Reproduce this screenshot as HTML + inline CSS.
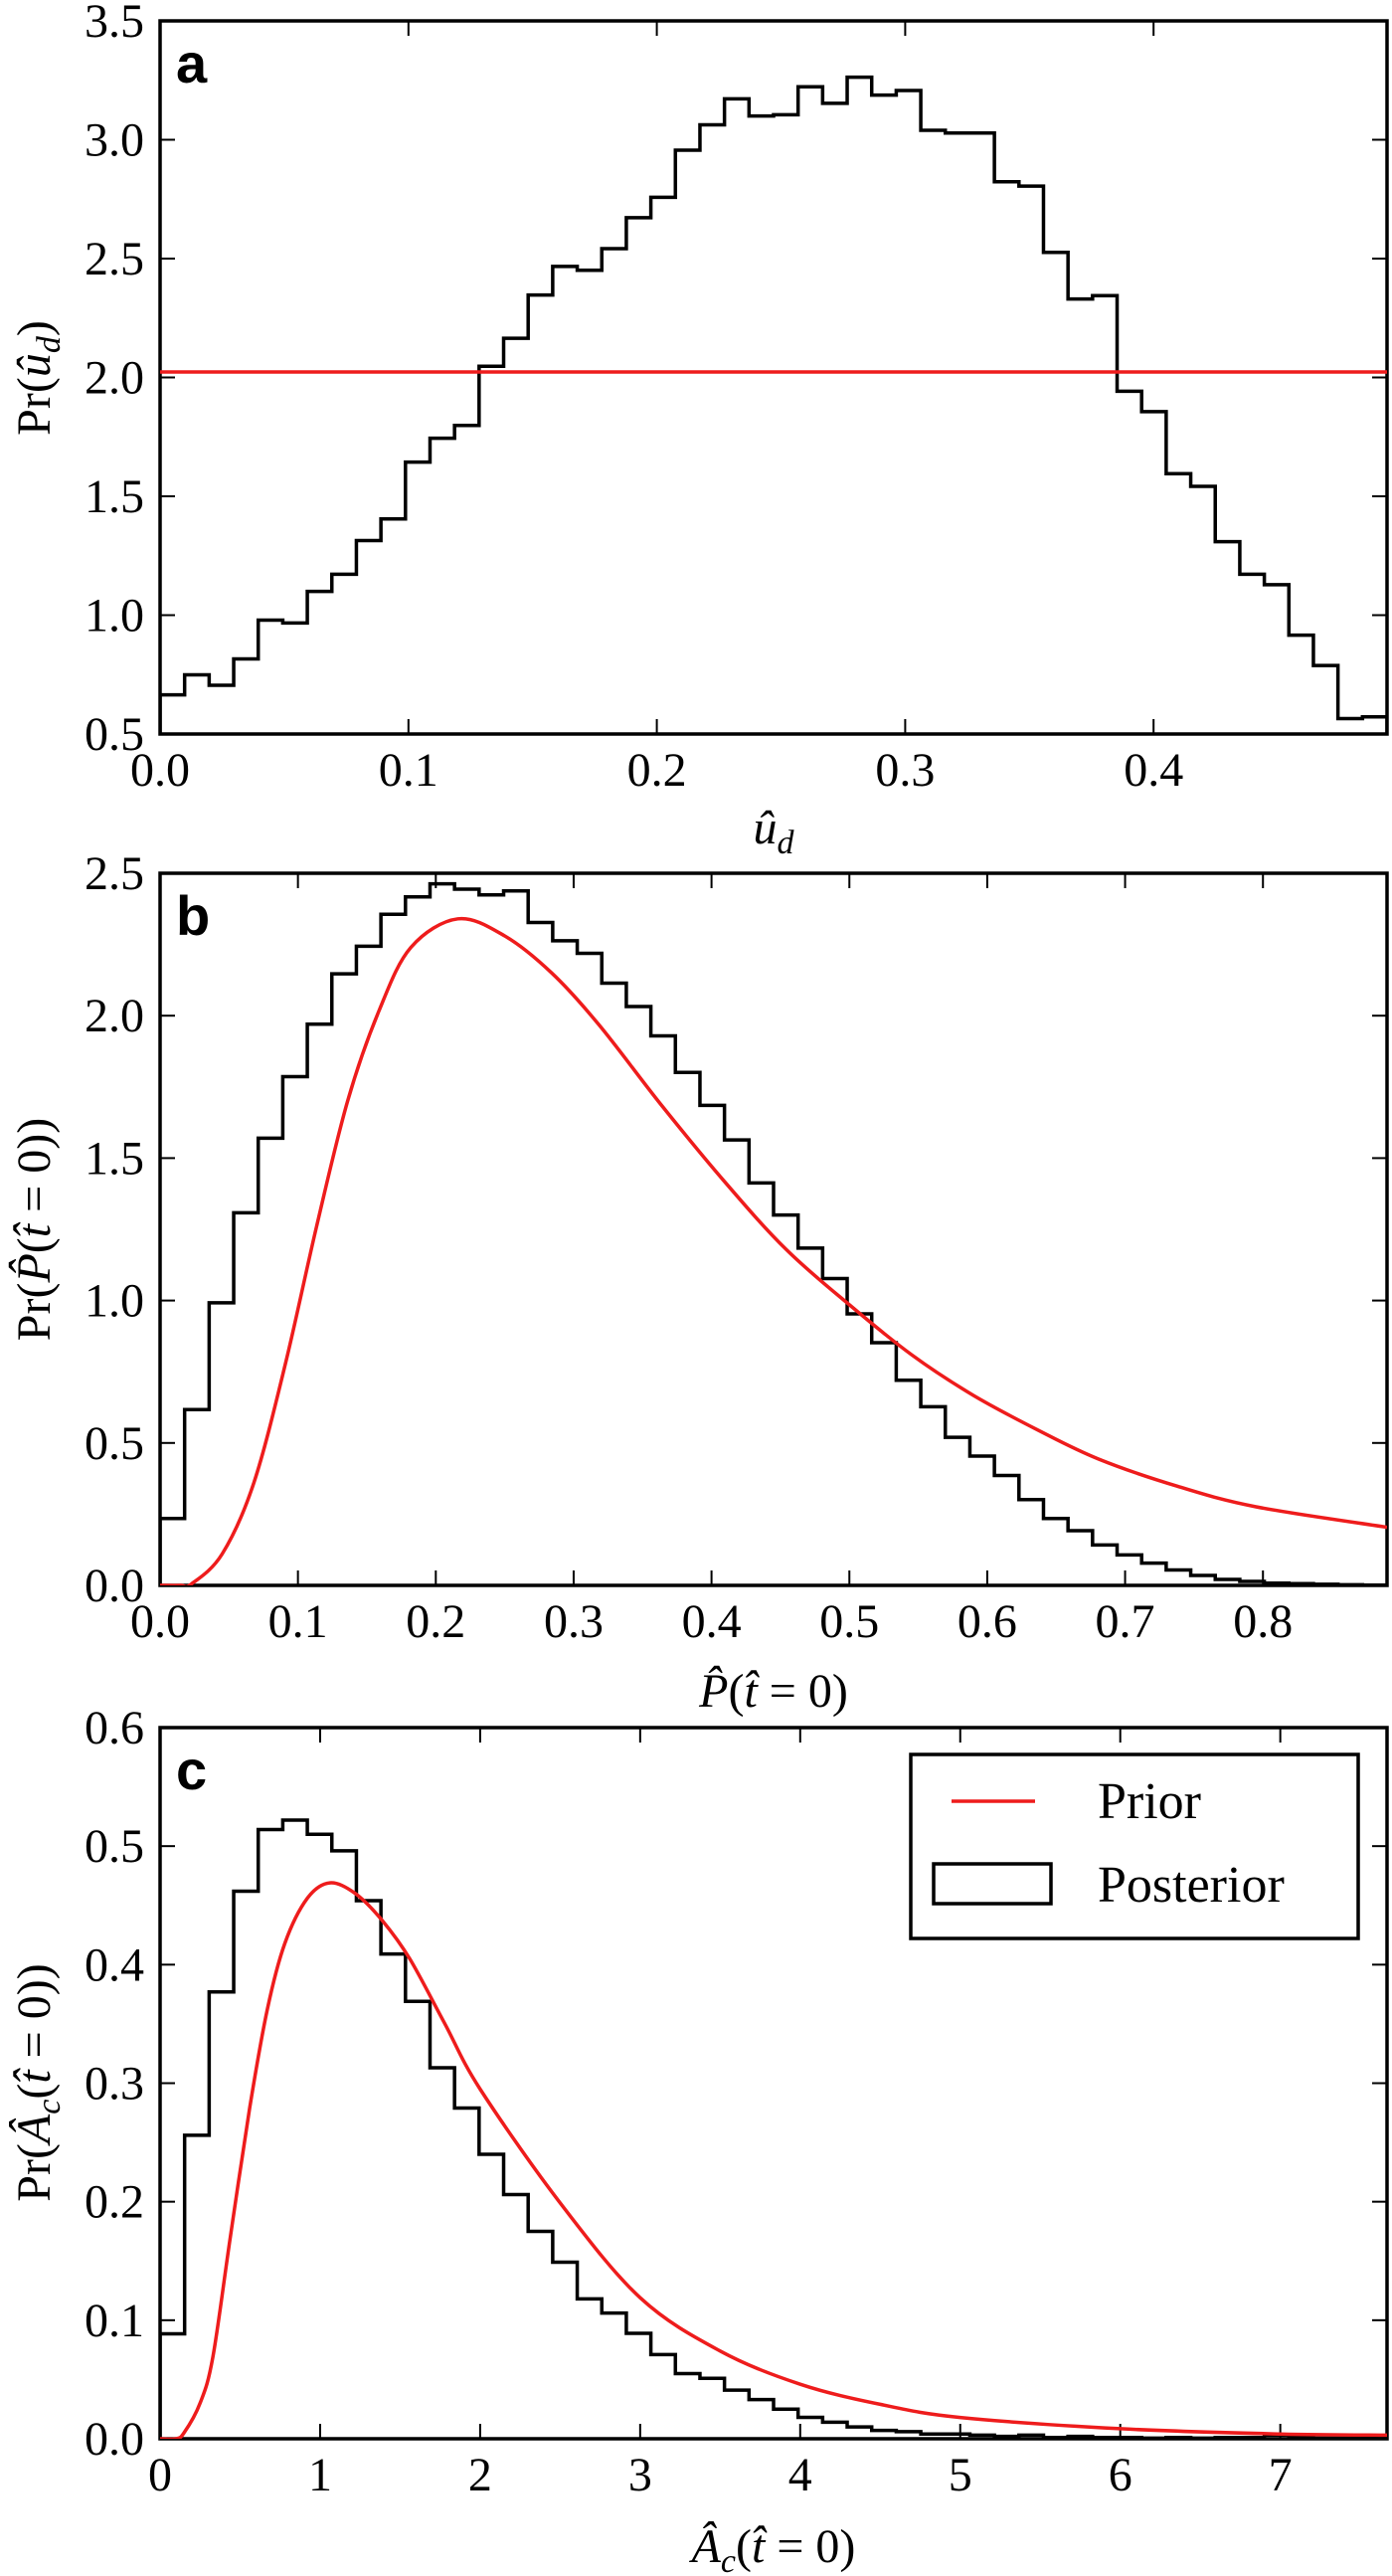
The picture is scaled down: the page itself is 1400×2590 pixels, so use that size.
<!DOCTYPE html>
<html><head><meta charset="utf-8"><style>
html,body{margin:0;padding:0;background:#fff;}
svg{display:block;}
</style></head><body>
<svg id="fig" width="1400" height="2590" viewBox="0 0 1400 2590" xmlns="http://www.w3.org/2000/svg"></svg>
<script>
// ---- Panel a data ----
const aBins = [0.665,0.749,0.705,0.816,0.979,0.967,1.100,1.172,1.314,1.405,1.644,1.744,1.798,2.047,2.165,2.347,2.467,2.451,2.542,2.672,2.758,2.956,3.063,3.172,3.100,3.105,3.223,3.153,3.263,3.188,3.207,3.040,3.028,3.028,2.823,2.805,2.526,2.330,2.344,1.942,1.856,1.595,1.542,1.309,1.172,1.128,0.916,0.788,0.565,0.572];
const aPrior = 2.023;
const aXTicks = [0,0.1,0.2,0.3,0.4];
const aXTickLabels = ["0.0","0.1","0.2","0.3","0.4"];
const aYTicks = [0.5,1.0,1.5,2.0,2.5,3.0,3.5];
const aYTickLabels = ["0.5","1.0","1.5","2.0","2.5","3.0","3.5"];
// ---- Panel b data ----
const bBins = [0.235,0.617,0.992,1.308,1.570,1.786,1.970,2.147,2.244,2.356,2.417,2.463,2.444,2.424,2.438,2.327,2.263,2.219,2.114,2.032,1.929,1.801,1.685,1.564,1.413,1.300,1.184,1.077,0.953,0.852,0.720,0.627,0.520,0.454,0.386,0.301,0.235,0.192,0.142,0.107,0.078,0.054,0.035,0.021,0.014,0.008,0.006,0.004,0.002,0.001];
const bPriorX = [0.0,0.015,0.0227,0.045,0.068,0.091,0.1135,0.136,0.159,0.182,0.216,0.25,0.284,0.318,0.363,0.409,0.454,0.5,0.545,0.59,0.636,0.681,0.738,0.795,0.89];
const bPriorY = [0.0,0.0,0.005,0.11,0.36,0.78,1.26,1.70,2.02,2.24,2.34,2.28,2.15,1.97,1.69,1.42,1.18,0.985,0.81,0.667,0.547,0.443,0.348,0.276,0.204];
const bXTicks = [0,0.1,0.2,0.3,0.4,0.5,0.6,0.7,0.8];
const bXTickLabels = ["0.0","0.1","0.2","0.3","0.4","0.5","0.6","0.7","0.8"];
const bYTicks = [0,0.5,1.0,1.5,2.0,2.5];
const bYTickLabels = ["0.0","0.5","1.0","1.5","2.0","2.5"];
// ---- Panel c data ----
const cBins = [0.0885,0.256,0.377,0.462,0.514,0.522,0.510,0.496,0.454,0.409,0.369,0.313,0.279,0.240,0.206,0.175,0.149,0.118,0.106,0.089,0.071,0.055,0.051,0.041,0.033,0.025,0.018,0.014,0.010,0.007,0.006,0.004,0.004,0.003,0.002,0.003,0.001,0.002,0.001,0.001,0.0005,0.001,0.0005,0.001,0.001,0.003,0.001,0.0005,0.0005,0.0005];
const cPriorX = [0.0,0.1,0.15,0.25,0.33,0.44,0.56,0.67,0.78,0.92,1.06,1.22,1.39,1.56,1.78,2.0,2.5,3.0,3.5,4.0,4.5,5.0,6.0,7.0,7.67];
const cPriorY = [0.0,0.0,0.005,0.03,0.069,0.171,0.279,0.362,0.418,0.456,0.469,0.460,0.437,0.405,0.350,0.295,0.199,0.119,0.074,0.046,0.029,0.018,0.0085,0.004,0.003];
const cXTicks = [0,1,2,3,4,5,6,7];
const cXTickLabels = ["0","1","2","3","4","5","6","7"];
const cYTicks = [0,0.1,0.2,0.3,0.4,0.5,0.6];
const cYTickLabels = ["0.0","0.1","0.2","0.3","0.4","0.5","0.6"];

const NS = "http://www.w3.org/2000/svg";
const FONT = "Liberation Serif, serif";
const svg = document.getElementById('fig');
const L = 161, R = 1395;
function mk(tag, attrs, parent){ const e=document.createElementNS(NS,tag); for(const k in attrs) e.setAttribute(k,attrs[k]); (parent||svg).appendChild(e); return e; }

function panel(id, top, bottom, xmax, ymin, ymax, bins, xt, xtl, yt, ytl, letter){
  const g = mk('g',{});
  
  
  const sx = v => L + (v/xmax)*(R-L);
  const sy = v => bottom - (v-ymin)/(ymax-ymin)*(bottom-top);
  const clip = mk('clipPath',{id:'clip-'+id}, g);
  mk('rect',{x:L,y:top,width:R-L,height:bottom-top}, clip);
  xt.forEach((v,i)=>{
    const t = mk('line',{x1:sx(v),x2:sx(v),y1:bottom,y2:bottom-15,stroke:'#000','stroke-width':2}, g);
    
    
    mk('line',{x1:sx(v),x2:sx(v),y1:top,y2:top+15,stroke:'#000','stroke-width':2}, g);
    const tl = mk('text',{x:sx(v),y:bottom+52,'text-anchor':'middle','font-size':48,'font-family':FONT,style:'font-family:"Liberation Serif",serif',fill:'#000'}, g);
    tl.textContent = xtl[i];
    
    
  });
  yt.forEach((v,i)=>{
    const t = mk('line',{x1:L,x2:L+15,y1:sy(v),y2:sy(v),stroke:'#000','stroke-width':2}, g);
    
    
    mk('line',{x1:R,x2:R-15,y1:sy(v),y2:sy(v),stroke:'#000','stroke-width':2}, g);
    const tl = mk('text',{x:145,y:sy(v)+16,'text-anchor':'end','font-size':48,'font-family':FONT,style:'font-family:"Liberation Serif",serif',fill:'#000'}, g);
    tl.textContent = ytl[i];
    
    
  });
  const n = bins.length, w = xmax/n;
  let d = 'M'+sx(0)+','+bottom+' V'+sy(bins[0]);
  for(let i=0;i<n;i++){
    d += ' H'+sx((i+1)*w);
    if(i<n-1) d += ' V'+sy(bins[i+1]);
  }
  d += ' V'+bottom;
  const h = mk('path',{d:d,fill:'none',stroke:'#000','stroke-width':3.5,'clip-path':'url(#clip-'+id+')'}, g);
  
  
  const fr = mk('rect',{x:L,y:top,width:R-L,height:bottom-top,fill:'none',stroke:'#000','stroke-width':3.5}, g);
  
  
  const pl = mk('text',{x:177,y:top+62,'font-size':56,'font-weight':'bold','font-family':'Liberation Sans, sans-serif',fill:'#000'}, g);
  pl.textContent = letter;
  
  
  return {g, sx, sy, id};
}
function priorCurve(p, xs, ys){
  const P = xs.map((x,i)=>[p.sx(x), p.sy(ys[i])]);
  let d = 'M'+P[0][0].toFixed(1)+','+P[0][1].toFixed(1);
  for(let i=0;i<P.length-1;i++){
    const p0 = P[Math.max(0,i-1)], p1 = P[i], p2 = P[i+1], p3 = P[Math.min(P.length-1,i+2)];
    const c1 = [p1[0]+(p2[0]-p0[0])/6, p1[1]+(p2[1]-p0[1])/6];
    const c2 = [p2[0]-(p3[0]-p1[0])/6, p2[1]-(p3[1]-p1[1])/6];
    d += ' C'+c1[0].toFixed(1)+','+c1[1].toFixed(1)+' '+c2[0].toFixed(1)+','+c2[1].toFixed(1)+' '+p2[0].toFixed(1)+','+p2[1].toFixed(1);
  }
  const c = mk('path',{d:d,fill:'none',stroke:'#ee1c1c','stroke-width':3.5,'clip-path':'url(#clip-'+p.id+')','stroke-linejoin':'round'}, p.g);
  
  
}

const pa = panel('a',21,738,0.494,0.5,3.5,aBins,aXTicks,aXTickLabels,aYTicks,aYTickLabels,'a');
const pr = mk('line',{x1:L,x2:R,y1:pa.sy(aPrior),y2:pa.sy(aPrior),stroke:'#ee1c1c','stroke-width':3.5}, pa.g);



const pb = panel('b',878,1594,0.89,0,2.5,bBins,bXTicks,bXTickLabels,bYTicks,bYTickLabels,'b');
priorCurve(pb,bPriorX,bPriorY);

const pc = panel('c',1737,2452,7.667,0,0.6,cBins,cXTicks,cXTickLabels,cYTicks,cYTickLabels,'c');
priorCurve(pc,cPriorX,cPriorY);
</script>
<svg style="position:absolute;left:0;top:0" width="1400" height="2590">
  <text x="778" y="848" text-anchor="middle" font-size="48" font-family="Liberation Serif, serif" font-style="italic">û<tspan font-size="34" dy="10">d</tspan></text>
  <text transform="translate(50,380) rotate(-90)" text-anchor="middle" font-size="48" font-family="Liberation Serif, serif">Pr(<tspan font-style="italic">û</tspan><tspan font-style="italic" font-size="34" dy="10">d</tspan><tspan dy="-10">)</tspan></text>
  <text x="778" y="1716" text-anchor="middle" font-size="48" font-family="Liberation Serif, serif"><tspan font-style="italic">P̂</tspan>(<tspan font-style="italic">t̂</tspan> = 0)</text>
  <text transform="translate(50,1236) rotate(-90)" text-anchor="middle" font-size="48" font-family="Liberation Serif, serif">Pr(<tspan font-style="italic">P̂</tspan>(<tspan font-style="italic">t̂</tspan> = 0))</text>
  <text x="778" y="2576" text-anchor="middle" font-size="48" font-family="Liberation Serif, serif"><tspan font-style="italic">Â</tspan><tspan font-style="italic" font-size="34" dy="10">c</tspan><tspan dy="-10">(</tspan><tspan font-style="italic">t̂</tspan> = 0)</text>
  <text transform="translate(50,2094) rotate(-90)" text-anchor="middle" font-size="48" font-family="Liberation Serif, serif">Pr(<tspan font-style="italic">Â</tspan><tspan font-style="italic" font-size="34" dy="10">c</tspan><tspan dy="-10">(</tspan><tspan font-style="italic">t̂</tspan> = 0))</text>
  <g>
    <rect x="916" y="1764" width="450" height="185" fill="#fff" stroke="#000" stroke-width="3.5"/>
    <line x1="957" y1="1811" x2="1041" y2="1811" stroke="#ee1c1c" stroke-width="3.5"/>
    <text x="1104" y="1828" font-size="52" font-family="Liberation Serif, serif">Prior</text>
    <rect x="939" y="1874" width="118" height="40" fill="none" stroke="#000" stroke-width="3.5"/>
    <text x="1104" y="1912" font-size="52" font-family="Liberation Serif, serif">Posterior</text>
  </g>
</svg>
</body></html>
